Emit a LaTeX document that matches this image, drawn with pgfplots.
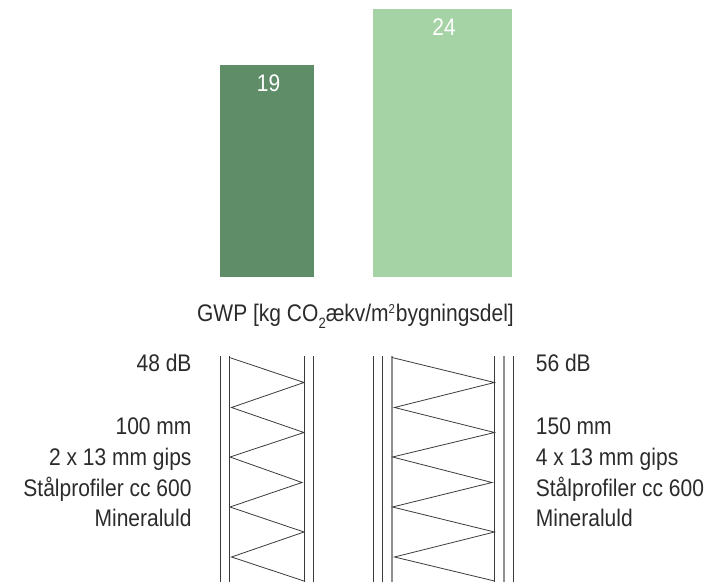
\documentclass[border=0pt]{standalone}
\usepackage{fontspec}
\setmainfont[FakeStretch=0.875]{Liberation Sans}
\usepackage{pgfplots}
\pgfplotsset{compat=1.18}
\definecolor{barA}{HTML}{5F8D68}
\definecolor{barB}{HTML}{A5D3A6}
\definecolor{txt}{HTML}{2B2B2B}
\definecolor{wall}{HTML}{3A3A3A}
\definecolor{wallg}{HTML}{8F8F8F}
\tikzset{lab/.style={font=\fontsize{24}{28}\selectfont, text=txt, inner sep=0pt}}
\begin{document}
\begin{tikzpicture}[x=1pt,y=1pt]
\useasboundingbox (0,0) rectangle (724pt,582pt);
% drawings and text, in reference pixels
\begin{axis}[
    at={(0,0)}, anchor=south west,
    scale only axis, width=724pt, height=582pt,
    xmin=0, xmax=724, ymin=0, ymax=582, y dir=reverse,
    hide axis, clip=true,
]
% left wall
\addplot[wall, line width=1pt] coordinates {(220,356) (220,582)};
\addplot[wall, line width=1pt] coordinates {(229.5,356) (229.5,582)};
\addplot[wall, line width=1pt] coordinates {(304,356) (304,582)};
\addplot[wall, line width=1pt] coordinates {(313.5,356) (313.5,582)};
\addplot[wall, line width=0.8pt] coordinates {
    (229.5,357.5) (304,382.5) (231.5,407.5) (304,432.5) (230,457)
    (302,482.5) (230,507) (304,532) (231.5,557) (304,581)};
% right wall
\addplot[wall, line width=1pt] coordinates {(373,356) (373,582)};
\addplot[wall, line width=1pt] coordinates {(382.7,356) (382.7,582)};
\addplot[wallg, line width=1.6pt] coordinates {(392,356) (392,582)};
\addplot[wall, line width=1pt] coordinates {(494.7,356) (494.7,582)};
\addplot[wallg, line width=1.6pt] coordinates {(503.7,356) (503.7,582)};
\addplot[wall, line width=1pt] coordinates {(513,356) (513,582)};
\addplot[wall, line width=0.8pt] coordinates {
    (392,357.5) (494.5,382.5) (394.5,407.5) (494.5,432.5) (392.5,457)
    (492,482.5) (392.5,507) (494.5,532) (394.5,557) (494.5,581)};
% labels
\node[lab, anchor=base] at (axis cs:355.5,321.5) {GWP [kg CO\raisebox{-7pt}{\fontsize{15}{15}\selectfont 2}æ\kern-0.2pt kv/m\raisebox{8pt}{\fontsize{13}{13}\selectfont 2}\kern1pt bygningsdel]};
\node[lab, anchor=base east] at (axis cs:191.7,371.7) {48 dB};
\node[lab, anchor=base east] at (axis cs:191.7,434) {100 mm};
\node[lab, anchor=base east] at (axis cs:191.7,465) {2 x 13 mm gips};
\node[lab, anchor=base east] at (axis cs:191.7,496) {Stålprofiler cc 600};
\node[lab, anchor=base east] at (axis cs:191.7,526.7) {Mineraluld};
\node[lab, anchor=base west] at (axis cs:535.7,371.7) {56 dB};
\node[lab, anchor=base west] at (axis cs:535.7,434) {150 mm};
\node[lab, anchor=base west] at (axis cs:535.7,465) {4 x 13 mm gips};
\node[lab, anchor=base west] at (axis cs:535.7,496) {Stålprofiler cc 600};
\node[lab, anchor=base west] at (axis cs:535.7,526.7) {Mineraluld};
\end{axis}
% bars, GWP values at 11.167 px per unit
\begin{axis}[
    at={(0,305pt)}, anchor=south west,
    scale only axis, width=724pt, height=277pt,
    xmin=0, xmax=724, ymin=0, ymax=24.806,
    hide axis, clip=false,
    ybar,
    /pgf/number format/assume math mode=true,
    nodes near coords,
    nodes near coords align={anchor=north},
    every node near coord/.append style={font=\fontsize{24}{28}\selectfont, text=white, xshift=1.5pt, yshift=-10pt, inner sep=0pt},
]
\addplot[bar shift=0pt, bar width=94pt, fill=barA, draw=none] coordinates {(267,19)};
\addplot[bar shift=0pt, bar width=139pt, fill=barB, draw=none] coordinates {(442.5,24)};
\end{axis}
\end{tikzpicture}
\end{document}
